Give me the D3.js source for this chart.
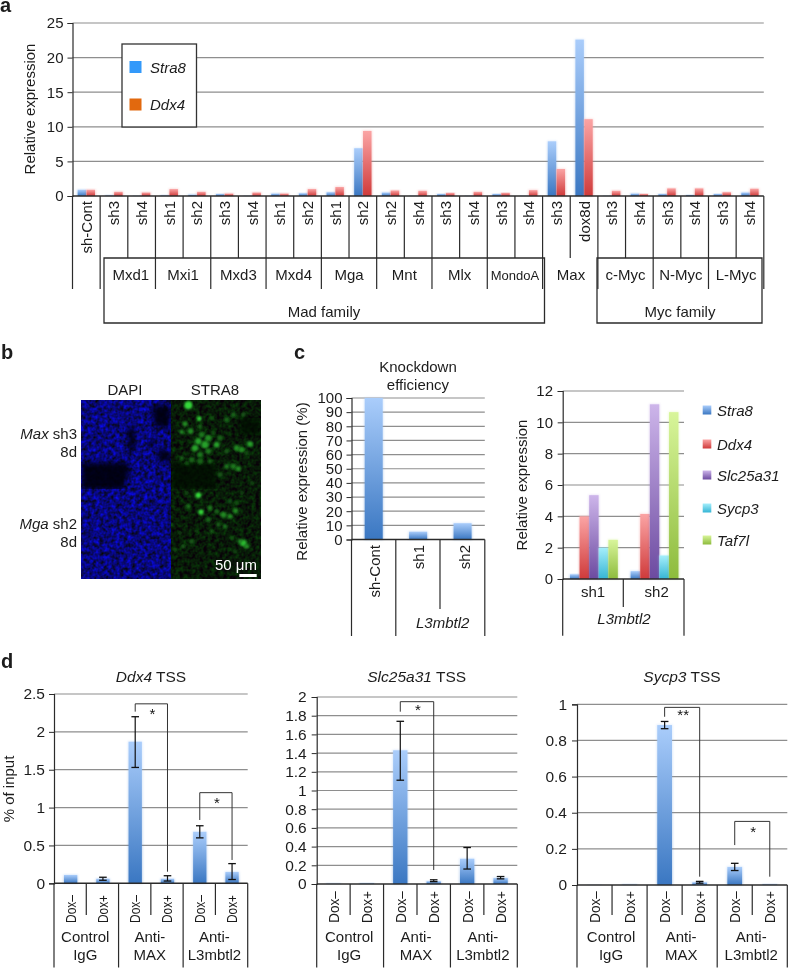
<!DOCTYPE html>
<html><head><meta charset="utf-8">
<script src="https://cdn.jsdelivr.net/npm/d3@7"></script>
<style>
html,body{margin:0;padding:0;background:#fff}
svg{display:block;filter:blur(0.35px)}
text{font-family:"Liberation Sans",Arial,sans-serif;fill:#1c1c1c}
</style></head><body><svg id="c" width="788" height="968"></svg>
<script>
// ---------- panel a ----------
const aLabels=["sh-Cont","sh3","sh4","sh1","sh2","sh3","sh4","sh1","sh2","sh1","sh2","sh2","sh4","sh3","sh4","sh3","sh4","sh3","dox8d","sh3","sh4","sh3","sh4","sh3","sh4"];
const aStra8=[0.9,0.1,0.05,0.1,0.2,0.3,0.05,0.35,0.4,0.55,6.9,0.5,0.05,0.3,0.05,0.3,0.05,7.9,22.6,0.05,0.35,0.3,0.15,0.3,0.5];
const aDdx4=[0.9,0.6,0.5,1.0,0.6,0.35,0.5,0.35,1.0,1.3,9.4,0.8,0.75,0.45,0.6,0.45,0.85,3.9,11.1,0.75,0.3,1.1,1.1,0.55,1.05];
const aTicks=[0,5,10,15,20,25];
const aGenes=["Mxd1","Mxi1","Mxd3","Mxd4","Mga","Mnt","Mlx","MondoA"];
const aMyc=["c-Myc","N-Myc","L-Myc"];
// ---------- panel c ----------
const cLabels=["sh-Cont","sh1","sh2"];
const cEff=[100,5.5,11.5];
const cEffTicks=[0,10,20,30,40,50,60,70,80,90,100];
const cGenes=["Stra8","Ddx4","Slc25a31","Sycp3","Taf7l"];
const cSh1=[0.3,4.0,5.35,2.0,2.5];
const cSh2=[0.5,4.15,11.15,1.5,10.65];
const cTicks=[0,2,4,6,8,10,12];
// ---------- panel d ----------
const dCats=["Dox–","Dox+","Dox–","Dox+","Dox–","Dox+"];
const dGroups=[["Control","IgG"],["Anti-","MAX"],["Anti-","L3mbtl2"]];
const ddx4Vals=[0.11,0.06,1.87,0.06,0.68,0.15];
const ddx4Lo=[null,0.04,1.53,0.03,0.6,0.05];
const ddx4Hi=[null,0.08,2.2,0.1,0.76,0.26];
const slcVals=[0.005,0.008,1.43,0.03,0.27,0.065];
const slcLo=[null,null,1.11,0.025,0.16,0.055];
const slcHi=[null,null,1.74,0.045,0.39,0.08];
const sycVals=[0.001,0.003,0.885,0.015,0.1,0.004];
const sycLo=[null,null,0.865,0.01,0.08,null];
const sycHi=[null,null,0.905,0.02,0.12,null];
const ddx4Ticks=[0,0.5,1,1.5,2,2.5];
const slcTicks=[0,0.2,0.4,0.6,0.8,1,1.2,1.4,1.6,1.8,2];
const sycTicks=[0,0.2,0.4,0.6,0.8,1];
// brackets: [from bar, to bar, start value, top value, end value, label]
const ddx4Brackets=[[2,3,2.267,2.37,0.153,"*"],[4,5,0.836,1.197,0.308,"*"]];
const slcBrackets=[[2,3,1.843,1.95,0.15,"*"]];
const sycBrackets=[[2,3,0.931,0.983,0.046,"**"],[4,5,0.221,0.352,0.046,"*"]];
const greenTop=[[325,22,10,1],[358,62,5,1],[315,78,6,.7],[305,102,5,.7],[332,100,7,.7],[360,85,5,.5],[440,65,6,.5],[460,50,6,.5],[490,50,5,.4],[395,60,5,.4],[365,110,7,.6],[385,120,8,.7],[355,130,8,.8],[375,140,9,.8],[410,140,7,.8],[345,150,8,.8],[385,160,7,.6],[360,170,7,.6],[335,185,7,.5],[305,180,5,.5],[320,195,5,.4],[360,190,7,.5],[390,190,5,.5],[470,150,7,.7],[485,155,7,.7],[510,138,7,.8],[440,205,6,.6],[460,205,7,.6],[475,212,6,.7],[420,230,6,.4],[500,165,5,.4],[420,120,6,.5],[400,105,5,.4],[440,160,6,.4],[515,255,4,.3]];
const greenBottom=[[355,22,7,1],[363,72,6,1],[325,55,5,.6],[390,60,6,.6],[430,80,7,.7],[450,85,6,.7],[467,68,6,.7],[410,70,5,.5],[385,95,6,.5],[435,115,5,.6],[395,130,4,.5],[415,110,5,.5],[450,40,5,.4],[470,45,5,.4],[485,15,4,.3],[320,15,4,.3],[490,165,8,.9],[480,160,5,.7],[500,175,6,.7],[455,150,5,.4],[465,190,4,.3],[335,160,6,.4],[310,175,5,.4],[285,185,4,.4],[275,110,3,.4],[300,135,3,.3],[350,130,3,.3]];
const darkBlue=[[[5,195],[140,192],[150,215],[130,275],[5,275]],[[215,25],[270,20],[270,90],[225,85]],[[140,90],[165,90],[165,150],[150,170]],[[205,125],[225,125],[225,145],[205,145]],[[235,150],[270,165],[270,195],[235,185]]];
const darkGreen=[[[275,195],[410,195],[410,275],[275,275]],[[480,60],[540,60],[540,110],[480,110]]];

const AXC="#2b2b2b", GRID="#8e8e8e";
const svg=d3.select("#c");
const defs=svg.append("defs");
function grad(id,top,bot){const g=defs.append("linearGradient").attr("id",id).attr("x1",0).attr("x2",0).attr("y1",0).attr("y2",1);
 g.append("stop").attr("offset","0%").attr("stop-color",top);g.append("stop").attr("offset","100%").attr("stop-color",bot);}
grad("gBlue","#aacdfb","#3a77c2");grad("gRed","#fba4a4","#cf3a3a");grad("gPur","#cdb5ea","#6c4aa0");grad("gCy","#a5eefb","#35b5d5");grad("gGrn","#d8f59a","#8dbb3c");
const turb=(id,freq,seed,matrix)=>{const f=defs.append("filter").attr("id",id).attr("x",0).attr("y",0).attr("width","100%").attr("height","100%").attr("color-interpolation-filters","sRGB");
 f.append("feTurbulence").attr("type","fractalNoise").attr("baseFrequency",freq).attr("numOctaves",2).attr("seed",seed);
 f.append("feColorMatrix").attr("type","matrix").attr("values",matrix);
 f.append("feGaussianBlur").attr("stdDeviation",0.7);};
turb("tBlue",0.25,4,"0 0 0 0 0.03  0 0 0 0 0.03  1.25 0 0 0 -0.15  0 0 0 0 1");
turb("tGreen",0.25,9,"0 0 0 0 0.03  0.4 0 0 0 -0.1  0 0 0 0 0.03  0 0 0 0 1");
defs.append("filter").attr("id","soft").attr("x","-60%").attr("y","-60%").attr("width","220%").attr("height","220%").append("feGaussianBlur").attr("stdDeviation",1.1);
defs.append("filter").attr("id","soft3").attr("x","-20%").attr("y","-20%").attr("width","140%").attr("height","140%").append("feGaussianBlur").attr("stdDeviation",2.5);
defs.append("filter").attr("id","halo").attr("x","-30%").attr("width","160%").append("feGaussianBlur").attr("stdDeviation",0.8);

function txt(g,x,y,s,size,o={}){const t=g.append("text").attr("x",x).attr("y",y).attr("font-size",size).attr("text-anchor",o.anchor||"middle");
 if(o.italic)t.attr("font-style","italic");if(o.bold)t.attr("font-weight","bold");if(o.fill)t.style("fill",o.fill);t.text(s);return t;}
function vtxt(g,x,y,s,size,anchor){return g.append("text").attr("transform",`translate(${x},${y}) rotate(-90)`).attr("font-size",size).attr("text-anchor",anchor).text(s);}
function line(g,x1,y1,x2,y2,w,c){g.append("line").attr("x1",x1).attr("y1",y1).attr("x2",x2).attr("y2",y2).attr("stroke",c||AXC).attr("stroke-width",w||1.2);}
function yAxis(g,y,x0,x1,ticks,size,labelX,fmt){
 g.selectAll(null).data(ticks.filter(d=>d!==ticks[0])).join("line").attr("x1",x0).attr("x2",x1).attr("y1",d=>y(d)).attr("y2",d=>y(d)).attr("stroke",GRID).attr("stroke-width",1.2);
 const ax=g.append("g").attr("transform",`translate(${x0},0)`).call(d3.axisLeft(y).tickValues(ticks).tickSize(5).tickPadding(0).tickFormat(fmt||d3.format("")));
 ax.select(".domain").attr("stroke",AXC).attr("stroke-width",1.2);
 ax.selectAll(".tick line").attr("stroke",AXC).attr("stroke-width",1);
 ax.selectAll("text").attr("font-size",size).attr("x",labelX-x0).attr("font-family",null);
 ax.attr("font-family",null).attr("font-size",null);
}
function bars(g,data,x,w,y,fill){
 g.selectAll(null).data(data).join("rect").attr("x",d=>x(d)-w/2-0.6).attr("width",w+1.2).attr("y",d=>y(d.v)-.5).attr("height",d=>y(0)-y(d.v)+.5).attr("fill",fill).attr("opacity",.4).attr("filter","url(#halo)");
 g.selectAll(null).data(data).join("rect").attr("x",d=>x(d)-w/2).attr("width",w).attr("y",d=>y(d.v)).attr("height",d=>y(0)-y(d.v)).attr("fill",fill);
}

// ===== panel a =====
{
 const g=svg.append("g");
 const x=d3.scaleBand().domain(d3.range(aLabels.length)).range([72.5,763.8]);
 const y=d3.scaleLinear().domain([0,25]).range([196,23]);
 yAxis(g,y,72.5,763.8,aTicks,15,63.5);
 const sub=d3.scaleBand().domain(["s","d"]).range([x.bandwidth()*0.18,x.bandwidth()*0.82]);
 const stra=aStra8.map((v,i)=>({v,i})),ddx=aDdx4.map((v,i)=>({v,i}));
 bars(g,stra,d=>x(d.i)+sub("s")+sub.bandwidth()/2,sub.bandwidth()-.4,y,"url(#gBlue)");
 bars(g,ddx,d=>x(d.i)+sub("d")+sub.bandwidth()/2,sub.bandwidth()-.4,y,"url(#gRed)");
 line(g,72.5,196,763.8,196,1.4);
 aLabels.forEach((s,i)=>vtxt(g,x(i)+x.bandwidth()/2+5.5,201,s,15,"end"));
 const b=i=>x(0)+x.step()*i;
 d3.range(0,26).forEach(i=>line(g,b(i),196,b(i),[0,1,25].includes(i)?289:258));
 g.append("path").attr("d",`M104,258H544.5V323H104Z`).attr("fill","none").attr("stroke",AXC).attr("stroke-width",1.3);
 g.append("path").attr("d",`M597,258H762V323H597Z`).attr("fill","none").attr("stroke",AXC).attr("stroke-width",1.3);
 d3.range(3,19,2).forEach(i=>line(g,b(i),258,b(i),289));
 [19,21,23].forEach(i=>line(g,b(i),258,b(i),289));
 aGenes.forEach((s,i)=>txt(g,(b(2*i+1)+b(2*i+3))/2+(i===0?3:0),280,s,s==="MondoA"?13:15));
 aMyc.forEach((s,i)=>txt(g,(b(2*i+19)+b(2*i+21))/2,280,s,15));
 txt(g,571,280,"Max",15);
 txt(g,324,317,"Mad family",15);txt(g,680,317,"Myc family",15);
 vtxt(g,35,109,"Relative expression",15,"middle");
 g.append("rect").attr("x",122).attr("y",44).attr("width",74.5).attr("height",83).attr("fill","#fff").attr("stroke","#333").attr("stroke-width",1.3);
 g.append("rect").attr("x",129.5).attr("y",61).attr("width",12).attr("height",12).attr("fill","#3399fa");
 g.append("rect").attr("x",129.5).attr("y",98.5).attr("width",12).attr("height",12).attr("fill","#e2690e");
 txt(g,150,72.5,"Stra8",15,{anchor:"start",italic:true});
 txt(g,150,109.5,"Ddx4",15,{anchor:"start",italic:true});
 txt(g,0,12,"a",20,{anchor:"start",bold:true});
}
// ===== panel b =====
{
 const g=svg.append("g");
 const sx=d3.scaleLinear().domain([0,552]).range([80,264]);
 const syT=d3.scaleLinear().domain([0,276]).range([398,490]);
 const syB=d3.scaleLinear().domain([0,276]).range([488,580]);
 const clip=(id,x,yy,w,h)=>defs.append("clipPath").attr("id",id).append("rect").attr("x",x).attr("y",yy).attr("width",w).attr("height",h);
 clip("cBT",81.5,400,89.5,89);clip("cGT",171,400,90,89);clip("cBB",81.5,489,89.5,90);clip("cGB",171,489,90,90);
 g.append("rect").attr("x",81.5).attr("y",400).attr("width",89.5).attr("height",179).attr("filter","url(#tBlue)");
 g.append("rect").attr("x",171).attr("y",400).attr("width",90).attr("height",179).attr("filter","url(#tGreen)");
 const poly=d3.line().x(d=>sx(d[0])).y(d=>syT(d[1]));
 const gd=g.append("g").attr("clip-path","url(#cBT)");
 gd.selectAll(null).data(darkBlue).join("path").attr("d",d=>poly(d)+"Z").attr("fill","#04040f").attr("opacity",.92).attr("filter","url(#soft3)");
 const gd2=g.append("g").attr("clip-path","url(#cGT)");
 gd2.selectAll(null).data(darkGreen).join("path").attr("d",d=>poly(d)+"Z").attr("fill","#040c04").attr("opacity",.75).attr("filter","url(#soft3)");
 const spot=(cp,data,sy)=>{const s=g.append("g").attr("clip-path",`url(#${cp})`);
  s.selectAll(null).data(data).join("circle").attr("cx",d=>sx(d[0])).attr("cy",d=>sy(d[1])).attr("r",d=>d[2]/3+.7)
   .attr("fill",d=>d3.interpolateRgb("#0b3d0c","#35d83a")(d[3]*d[3])).attr("filter","url(#soft)");};
 spot("cGT",greenTop,syT);spot("cGB",greenBottom,syB);
 txt(g,125,395,"DAPI",15);txt(g,215,395,"STRA8",15);
 const mix=(yy,a,b)=>{const t=txt(g,77,yy,"",15,{anchor:"end"});t.append("tspan").attr("font-style","italic").text(a);t.append("tspan").text(b);};
 mix(439,"Max"," sh3");txt(g,77,457,"8d",15,{anchor:"end"});
 mix(529,"Mga"," sh2");txt(g,77,547,"8d",15,{anchor:"end"});
 txt(g,236,570,"50 μm",15,{fill:"#fff"});
 g.append("rect").attr("x",239.3).attr("y",574).attr("width",17.4).attr("height",3).attr("fill","#fff");
 txt(g,1,359,"b",20,{anchor:"start",bold:true});
}
// ===== panel c =====
{
 const g=svg.append("g");
 const x=d3.scaleBand().domain(cLabels).range([351.5,484.8]);
 const y=d3.scaleLinear().domain([0,100]).range([539.5,398]);
 yAxis(g,y,351.5,484.8,cEffTicks,15,342.5);
 const dat=cLabels.map((c,i)=>({c,v:cEff[i]}));
 bars(g,dat,d=>x(d.c)+x.bandwidth()/2,18,y,"url(#gBlue)");
 line(g,351.5,539.5,484.8,539.5,1.4);
 [351.5,395.8,484.8].forEach(v=>line(g,v,539.5,v,636));line(g,440,539.5,440,609);
 vtxt(g,380,545,"sh-Cont",15,"end");vtxt(g,424,545,"sh1",15,"end");vtxt(g,470,545,"sh2",15,"end");
 txt(g,442.7,628,"L3mbtl2",15,{italic:true});
 txt(g,418,372,"Knockdown",15);txt(g,418,390,"efficiency",15);
 vtxt(g,307,481.5,"Relative expression (%)",15,"middle");
 txt(g,294,359,"c",20,{anchor:"start",bold:true});
 const gr=svg.append("g");
 const xr=d3.scaleBand().domain(["sh1","sh2"]).range([562.7,684]);
 const yr=d3.scaleLinear().domain([0,12]).range([579,391]);
 yAxis(gr,yr,562.7,684,cTicks,15,553);
 const xs=d3.scaleBand().domain(cGenes).range([7.2,55.2]);
 const fills=["url(#gBlue)","url(#gRed)","url(#gPur)","url(#gCy)","url(#gGrn)"];
 [["sh1",cSh1],["sh2",cSh2]].forEach(([k,vals])=>{
  vals.forEach((v,i)=>bars(gr,[{v}],()=>xr(k)+xs(cGenes[i])+xs.bandwidth()/2,xs.bandwidth()-.2,yr,fills[i]));
 });
 line(gr,562.7,579,684,579,1.4);
 [562.7,684].forEach(v=>line(gr,v,579,v,635.7));line(gr,623.3,579,623.3,607);
 txt(gr,593,597,"sh1",15);txt(gr,656.7,597,"sh2",15);
 txt(gr,624,624,"L3mbtl2",15,{italic:true});
 vtxt(gr,527,485,"Relative expression",15,"middle");
 const ly2={Stra8:410,Ddx4:444,Slc25a31:475,Sycp3:508,Taf7l:540};
 cGenes.forEach((s,i)=>{gr.append("rect").attr("x",702.7).attr("y",ly2[s]-4.5).attr("width",8.6).attr("height",9).attr("fill",fills[i]);
  txt(gr,717,ly2[s]+5.5,s,15,{anchor:"start",italic:true});});
}
// ===== panel d =====
function chip(o){
 const g=svg.append("g");
 const x=d3.scaleBand().domain(d3.range(6)).range([o.x0,o.x1]);
 const y=d3.scaleLinear().domain(o.dom).range([o.y0,o.yTop]);
 yAxis(g,y,o.x0,o.x1,o.ticks,15.5,o.labelX);
 const cx=i=>x(i)+x.bandwidth()/2+o.shift;
 bars(g,o.vals.map((v,i)=>({v,i})),d=>cx(d.i),o.bw,y,"url(#gBlue)");
 line(g,o.x0,o.y0,o.x1,o.y0,1.4);
 o.vals.forEach((v,i)=>{ if(o.lo[i]==null)return;
  line(g,cx(i),y(o.lo[i]),cx(i),y(o.hi[i]),1.2,"#111");
  line(g,cx(i)-3.8,y(o.lo[i]),cx(i)+3.8,y(o.lo[i]),1.3,"#111");
  line(g,cx(i)-3.8,y(o.hi[i]),cx(i)+3.8,y(o.hi[i]),1.3,"#111");});
 d3.range(7).forEach(i=>{const b=o.x0+x.step()*i;line(g,b,o.y0,b,i%2?915:967.5);});
 dCats.forEach((s,i)=>vtxt(g,x(i)+x.bandwidth()/2+5.5,o.doxTop,s,15,"end").attr("textLength",o.doxLen).attr("lengthAdjust","spacingAndGlyphs"));
 dGroups.forEach((p,i)=>{const c=(x(2*i)+x(2*i+1)+x.bandwidth())/2-1;txt(g,c,942,p[0],15);txt(g,c,959.5,p[1],15);});
 const t=txt(g,o.titleX,682,"",15.5);t.append("tspan").attr("font-style","italic").text(o.gene);t.append("tspan").text(" TSS");
 o.br.forEach(([a,b,v0,vt,v1,s],k)=>{
  const xa=cx(a),xb=cx(b);
  g.append("path").attr("d",`M${xa},${y(v0)}V${y(vt)}H${xb}V${y(v1)}`).attr("fill","none").attr("stroke","#333").attr("stroke-width",1);
  txt(g,(xa+xb)/2+1,y(vt)+o.starGap[k],s,15,{fill:"#111"});
 });
}
chip({x0:54,x1:247.7,y0:883.3,yTop:694,dom:[0,2.5],ticks:ddx4Ticks,vals:ddx4Vals,lo:ddx4Lo,hi:ddx4Hi,br:ddx4Brackets,gene:"Ddx4",titleX:151,labelX:45,bw:13.3,shift:.5,doxTop:895,doxLen:28,starGap:[15.5,15.5]});
chip({x0:316.7,x1:517.3,y0:884,yTop:697,dom:[0,2],ticks:slcTicks,vals:slcVals,lo:slcLo,hi:slcHi,br:slcBrackets,gene:"Slc25a31",titleX:416.7,labelX:306.7,bw:14.3,shift:0,doxTop:891,doxLen:32,starGap:[13]});
chip({x0:577,x1:787.3,y0:885,yTop:704.3,dom:[0,1],ticks:sycTicks,vals:sycVals,lo:sycLo,hi:sycHi,br:sycBrackets,gene:"Sycp3",titleX:682,labelX:567,bw:14.7,shift:0,doxTop:891,doxLen:32,starGap:[13,16]});
txt(svg,1,668,"d",20,{anchor:"start",bold:true});
vtxt(svg,14,789,"% of input",15,"middle");
</script></body></html>
